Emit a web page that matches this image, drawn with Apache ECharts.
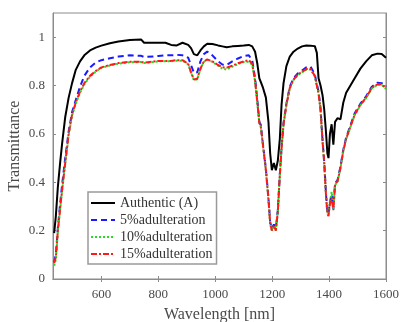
<!DOCTYPE html>
<html>
<head>
<meta charset="utf-8">
<script src="https://cdn.jsdelivr.net/npm/echarts@6/dist/echarts.min.js"></script>
<style>
html,body{margin:0;padding:0;background:#fff;}
#chart{width:403px;height:322px;}
</style>
</head>
<body>
<div id="chart"></div>
<script>
var wavelength = [434,440,447,455,462,473,485,497,510,525,540,560,580,600,630,660,700,740,750,800,825,845,865,885,905,915,925,937,948,960,972,990,1010,1025,1040,1060,1080,1100,1118,1130,1140,1148,1155,1160,1168,1178,1187,1193,1199,1206,1213,1220,1227,1233,1240,1250,1262,1275,1290,1305,1320,1335,1350,1357,1363,1370,1377,1383,1389,1394,1398,1403,1409,1415,1421,1430,1440,1450,1460,1475,1490,1510,1530,1550,1570,1585,1600];

var authentic = [0.19,0.26,0.38,0.48,0.56,0.67,0.75,0.81,0.865,0.90,0.925,0.945,0.957,0.965,0.975,0.982,0.988,0.99,0.977,0.977,0.977,0.968,0.966,0.977,0.968,0.955,0.93,0.925,0.945,0.962,0.973,0.972,0.966,0.962,0.958,0.962,0.964,0.966,0.968,0.962,0.94,0.89,0.83,0.815,0.79,0.75,0.65,0.52,0.45,0.48,0.45,0.49,0.58,0.72,0.81,0.88,0.92,0.94,0.953,0.962,0.966,0.965,0.963,0.935,0.83,0.80,0.76,0.70,0.61,0.52,0.50,0.60,0.64,0.555,0.65,0.665,0.66,0.73,0.77,0.80,0.83,0.87,0.90,0.925,0.932,0.93,0.915];

var adult5 = [0.07,0.10,0.21,0.31,0.39,0.50,0.61,0.69,0.74,0.795,0.84,0.875,0.895,0.905,0.913,0.92,0.925,0.923,0.918,0.922,0.925,0.925,0.927,0.925,0.915,0.885,0.852,0.855,0.90,0.93,0.94,0.925,0.90,0.887,0.885,0.90,0.912,0.922,0.925,0.905,0.83,0.74,0.65,0.638,0.555,0.455,0.335,0.235,0.21,0.225,0.21,0.285,0.435,0.545,0.645,0.725,0.795,0.83,0.85,0.862,0.875,0.878,0.845,0.805,0.775,0.705,0.575,0.485,0.355,0.28,0.27,0.32,0.35,0.29,0.395,0.41,0.465,0.535,0.585,0.635,0.685,0.725,0.755,0.795,0.812,0.81,0.795];

var adult10 = [0.055,0.08,0.195,0.285,0.365,0.475,0.595,0.675,0.725,0.77,0.805,0.837,0.858,0.873,0.883,0.891,0.896,0.897,0.893,0.9,0.9,0.9,0.903,0.903,0.888,0.853,0.823,0.826,0.868,0.898,0.906,0.898,0.882,0.87,0.866,0.878,0.889,0.897,0.898,0.886,0.818,0.728,0.643,0.63,0.548,0.448,0.328,0.228,0.2,0.22,0.2,0.278,0.428,0.538,0.638,0.718,0.788,0.823,0.843,0.855,0.866,0.866,0.838,0.798,0.768,0.698,0.568,0.478,0.348,0.27,0.262,0.315,0.36,0.288,0.388,0.403,0.458,0.528,0.578,0.628,0.678,0.718,0.748,0.788,0.803,0.803,0.786];

var adult15 = [0.065,0.09,0.20,0.29,0.37,0.48,0.60,0.68,0.73,0.775,0.81,0.84,0.86,0.875,0.885,0.893,0.898,0.898,0.895,0.902,0.902,0.902,0.905,0.905,0.89,0.855,0.825,0.828,0.87,0.90,0.908,0.90,0.885,0.876,0.874,0.882,0.892,0.90,0.905,0.89,0.82,0.73,0.645,0.632,0.55,0.45,0.33,0.23,0.20,0.22,0.20,0.28,0.43,0.54,0.64,0.72,0.79,0.825,0.845,0.857,0.868,0.868,0.84,0.80,0.77,0.70,0.57,0.48,0.35,0.27,0.26,0.31,0.335,0.285,0.39,0.405,0.46,0.53,0.58,0.63,0.68,0.72,0.75,0.79,0.805,0.805,0.788];

var seriesNames = ['Authentic (A)','5%adulteration','10%adulteration','15%adulteration'];
var xTicks = [600,800,1000,1200,1400,1600];
var yTicks = [0,0.2,0.4,0.6,0.8,1];

function pairs(vals){ return wavelength.map(function(w,i){ return [w, vals[i]]; }); }

var FONT = '"Liberation Serif", "DejaVu Serif", serif';
var frameColor = '#8c8c8c';
var labelColor = '#4a4a4a';

var chart = echarts.init(document.getElementById('chart'), null, {renderer:'canvas'});

function mkSeries(name, vals, color, type, z){
  return {
    name: name, type: 'line', data: pairs(vals), symbol: 'none', showSymbol: false,
    smooth: false, z: z, animation: false,
    lineStyle: {color: color, width: 2, type: type},
    itemStyle: {color: color}
  };
}

chart.setOption({
  backgroundColor: '#ffffff',
  animation: false,
  grid: {left: 53, right: 17, top: 13, bottom: 43, show: true, borderColor: frameColor, borderWidth: 1, backgroundColor: '#fff',
    containLabel: false, outerBoundsMode: 'none'},
  legend: {
    show: true,
    orient: 'vertical', left: 88, top: 192,
    itemWidth: 24, itemHeight: 10, itemGap: 3,
    padding: [4, 4, 3, 2],
    borderColor: '#9a9a9a', borderWidth: 1.5, backgroundColor: '#fff',
    textStyle: {fontFamily: FONT, fontSize: 14, color: '#333'},
    itemStyle: {opacity: 0},
    data: seriesNames,
    z: 10
  },
  xAxis: [{
    type: 'value', min: 430, max: 1600, position: 'bottom',
    name: 'Wavelength [nm]', nameLocation: 'middle', nameGap: 28, nameMoveOverlap: false,
    nameTextStyle: {fontFamily: FONT, fontSize: 16, color: labelColor},
    axisLine: {show: true, lineStyle: {color: frameColor, width: 1}},
    axisTick: {show: true, inside: true, length: 3, customValues: xTicks, lineStyle: {color: frameColor}},
    axisLabel: {show: true, customValues: xTicks, margin: 9, fontFamily: FONT, fontSize: 13, color: labelColor,
      formatter: function(v){ return String(v); }},
    splitLine: {show: false}
  },{
    type: 'value', min: 430, max: 1600, position: 'top',
    axisLine: {show: true, lineStyle: {color: frameColor, width: 1}},
    axisTick: {show: true, inside: true, length: 3, customValues: xTicks, lineStyle: {color: frameColor}},
    axisLabel: {show: false}, splitLine: {show: false}
  }],
  yAxis: [{
    type: 'value', min: 0, max: 1.1, position: 'left',
    name: 'Transmittance', nameLocation: 'middle', nameGap: 30, nameMoveOverlap: false,
    nameTextStyle: {fontFamily: FONT, fontSize: 16, color: labelColor},
    axisLine: {show: true, lineStyle: {color: frameColor, width: 1}},
    axisTick: {show: true, inside: true, length: 3, customValues: yTicks, lineStyle: {color: frameColor}},
    axisLabel: {show: true, customValues: yTicks, margin: 8, fontFamily: FONT, fontSize: 13, color: labelColor,
      formatter: function(v){ return String(v); }},
    splitLine: {show: false}
  },{
    type: 'value', min: 0, max: 1.1, position: 'right',
    axisLine: {show: true, lineStyle: {color: frameColor, width: 1}},
    axisTick: {show: true, inside: true, length: 3, customValues: yTicks, lineStyle: {color: frameColor}},
    axisLabel: {show: false}, splitLine: {show: false}
  }],
  series: [
    mkSeries(seriesNames[0], authentic, '#000000', 'solid', 2),
    mkSeries(seriesNames[1], adult5, '#1a1aff', [6,4], 3),
    mkSeries(seriesNames[2], adult10, '#22dd22', [2,2], 4),
    mkSeries(seriesNames[3], adult15, '#ff1a1a', [6,2,2,2], 5)
  ]
});
</script>
</body>
</html>
